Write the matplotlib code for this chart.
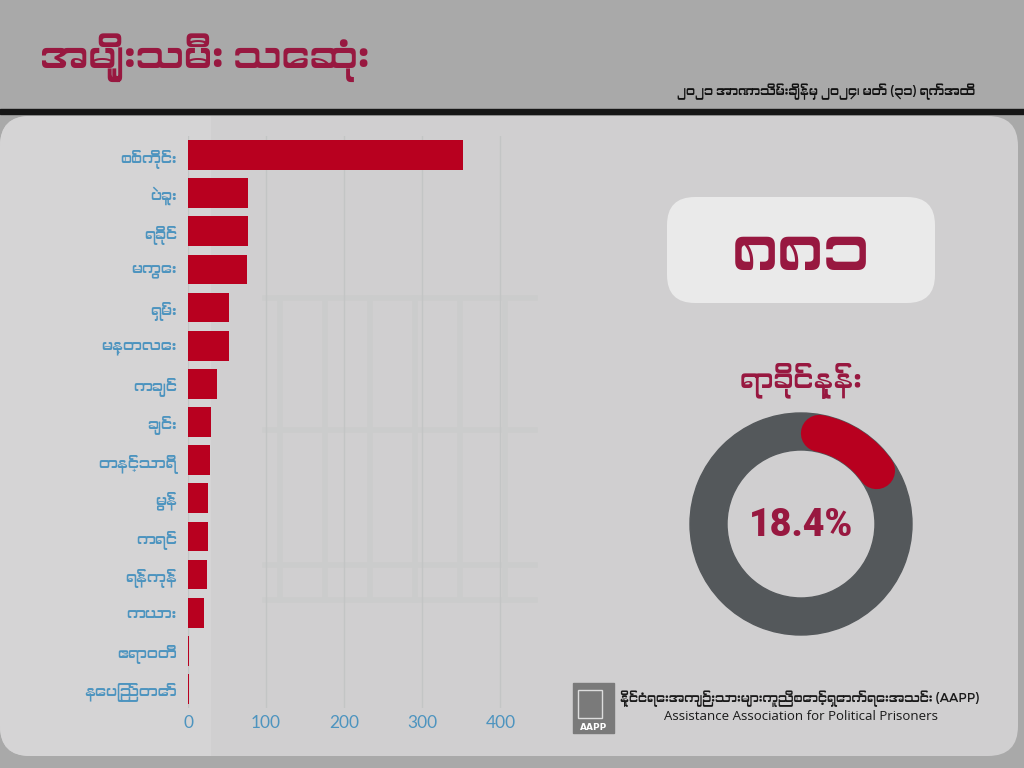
import numpy as np
import matplotlib
matplotlib.use("Agg")
import matplotlib.pyplot as plt
from matplotlib import font_manager
from matplotlib.patches import FancyBboxPatch, Wedge, Rectangle

# data
regions = ["စစ်ကိုင်း", "ပဲခူး", "ရခိုင်", "မကွေး", "ရှမ်း", "မန္တလေး", "ကချင်", "ချင်း",
           "တနင်္သာရီ", "မွန်", "ကရင်", "ရန်ကုန်", "ကယား", "ဧရာဝတီ", "နေပြည်တော်"]
deaths = [352, 77, 77, 76, 53, 52, 37, 30, 28, 26, 26, 24, 21, 1, 1]
x_ticks = [0, 100, 200, 300, 400]

title = "အမျိုးသမီး သေဆုံး"
subtitle = "၂၀၂၁ အာဏာသိမ်းချိန်မှ ၂၀၂၄၊ မတ် (၃၁) ရက်အထိ"
total_label = "၈၈၁"
pct_title = "ရာခိုင်နှုန်း"
pct_value = 18.4
org_mm = "နိုင်ငံရေးအကျဉ်းသားများကူညီစောင့်ရှောက်ရေးအသင်း (AAPP)"
org_en = "Assistance Association for Political Prisoners"

CRIMSON = "#981840"
BAR_RED = "#b8001f"
BLUE = "#4d94bf"
RING_GRAY = "#54585b"

# look for a font that has Myanmar glyphs, fall back to DejaVu
mm = [f.name for f in font_manager.fontManager.ttflist
      if any(k in f.name for k in ("Myanmar", "Padauk", "Pyidaungsu"))]
FAM = mm[:1] + ["DejaVu Sans"]
plt.rcParams["font.family"] = FAM

fig = plt.figure(figsize=(10.24, 7.68), dpi=100)
fig.patch.set_facecolor("#a9a9a9")

# full figure canvas in pixel coordinates
bg = fig.add_axes([0, 0, 1, 1])
bg.set_xlim(0, 1024)
bg.set_ylim(768, 0)
bg.axis("off")

bg.add_patch(Rectangle((0, 109), 1024, 5, color="#161616"))
panel = FancyBboxPatch((0, 116), 1018, 640, boxstyle="round,pad=0,rounding_size=30",
                       fc="#d0cfd0", ec="none")
bg.add_patch(panel)
strip = Rectangle((0, 116), 210, 640, color="#d5d4d5", zorder=1.1)
bg.add_patch(strip)
strip.set_clip_path(panel)

# faint watermark of prison bars
for xb in np.arange(280, 540, 45):
    bg.plot([xb, xb], [298, 600], color="#cbcccc", lw=4, zorder=1.2)
for yb in (298, 430, 565, 600):
    bg.plot([265, 535], [yb, yb], color="#cbcccc", lw=4, zorder=1.2)

bg.text(40, 58, title, fontsize=28, fontweight="bold", color=CRIMSON, va="center")
bg.text(975, 92, subtitle, fontsize=9, fontweight="bold", color="#111111",
        ha="right", va="center")

# total box
bg.add_patch(FancyBboxPatch((667, 197), 268, 106, boxstyle="round,pad=0,rounding_size=28",
                            fc="#eaeaea", ec="none"))
bg.text(801, 252, total_label, fontsize=46, fontweight="bold", color=CRIMSON,
        ha="center", va="center")
bg.text(801, 380, pct_title, fontsize=20, fontweight="bold", color=CRIMSON,
        ha="center", va="center")

# donut
cx, cy, r_out, ring = 801, 524, 111, 37
bg.add_patch(Wedge((cx, cy), r_out, 0, 360, width=ring, color=RING_GRAY))
r_mid = r_out - ring / 2
cap = np.degrees((ring / 2) / r_mid)
span = pct_value / 100 * 360
th = np.radians(np.linspace(90 - cap, 90 - span + cap, 60))
bg.plot(cx + r_mid * np.cos(th), cy - r_mid * np.sin(th), color=BAR_RED,
        lw=ring * 0.72, solid_capstyle="round")
bg.text(cx, cy + 2, f"{pct_value}%", fontsize=27, fontweight="heavy", color=CRIMSON,
        ha="center", va="center", family=["Roboto", "DejaVu Sans"])

# footer logo + org name
bg.add_patch(Rectangle((573, 683), 41, 50, color="#7a7a7a"))
bg.add_patch(Rectangle((578, 690), 24, 28, fill=False, ec="#dddddd", lw=1))
bg.text(593.5, 728, "AAPP", fontsize=6.5, fontweight="bold", color="white",
        ha="center", va="center", family=["DejaVu Sans"])
bg.text(800, 699, org_mm, fontsize=9, color="#1a1a1a", ha="center", va="center",
        family=FAM)
bg.text(801, 716, org_en, fontsize=9.5, color="#1a1a1a", ha="center", va="center",
        family=["Open Sans", "DejaVu Sans"])

# bar chart
ax = fig.add_axes([188 / 1024, 1 - 708 / 768, 328 / 1024, 572 / 768])
ax.patch.set_alpha(0)
y = np.arange(len(regions))
ax.barh(y, deaths, height=0.78, color=BAR_RED, zorder=3)
ax.set_ylim(len(regions) - 0.5, -0.5)
ax.set_xlim(0, 420)
ax.set_yticks(y)
ax.set_yticklabels(regions, fontsize=11, color=BLUE)
ax.set_xticks(x_ticks)
ax.set_xticklabels([str(t) for t in x_ticks], fontsize=12.5, color=BLUE,
                   family=["Lato", "DejaVu Sans"])
ax.tick_params(length=0, pad=8)
ax.tick_params(axis="x", pad=5)
ax.grid(axis="x", color="#c3c5c5", lw=1, zorder=0)
for s in ax.spines.values():
    s.set_visible(False)

fig.savefig("out.png", dpi=100, facecolor=fig.get_facecolor())
